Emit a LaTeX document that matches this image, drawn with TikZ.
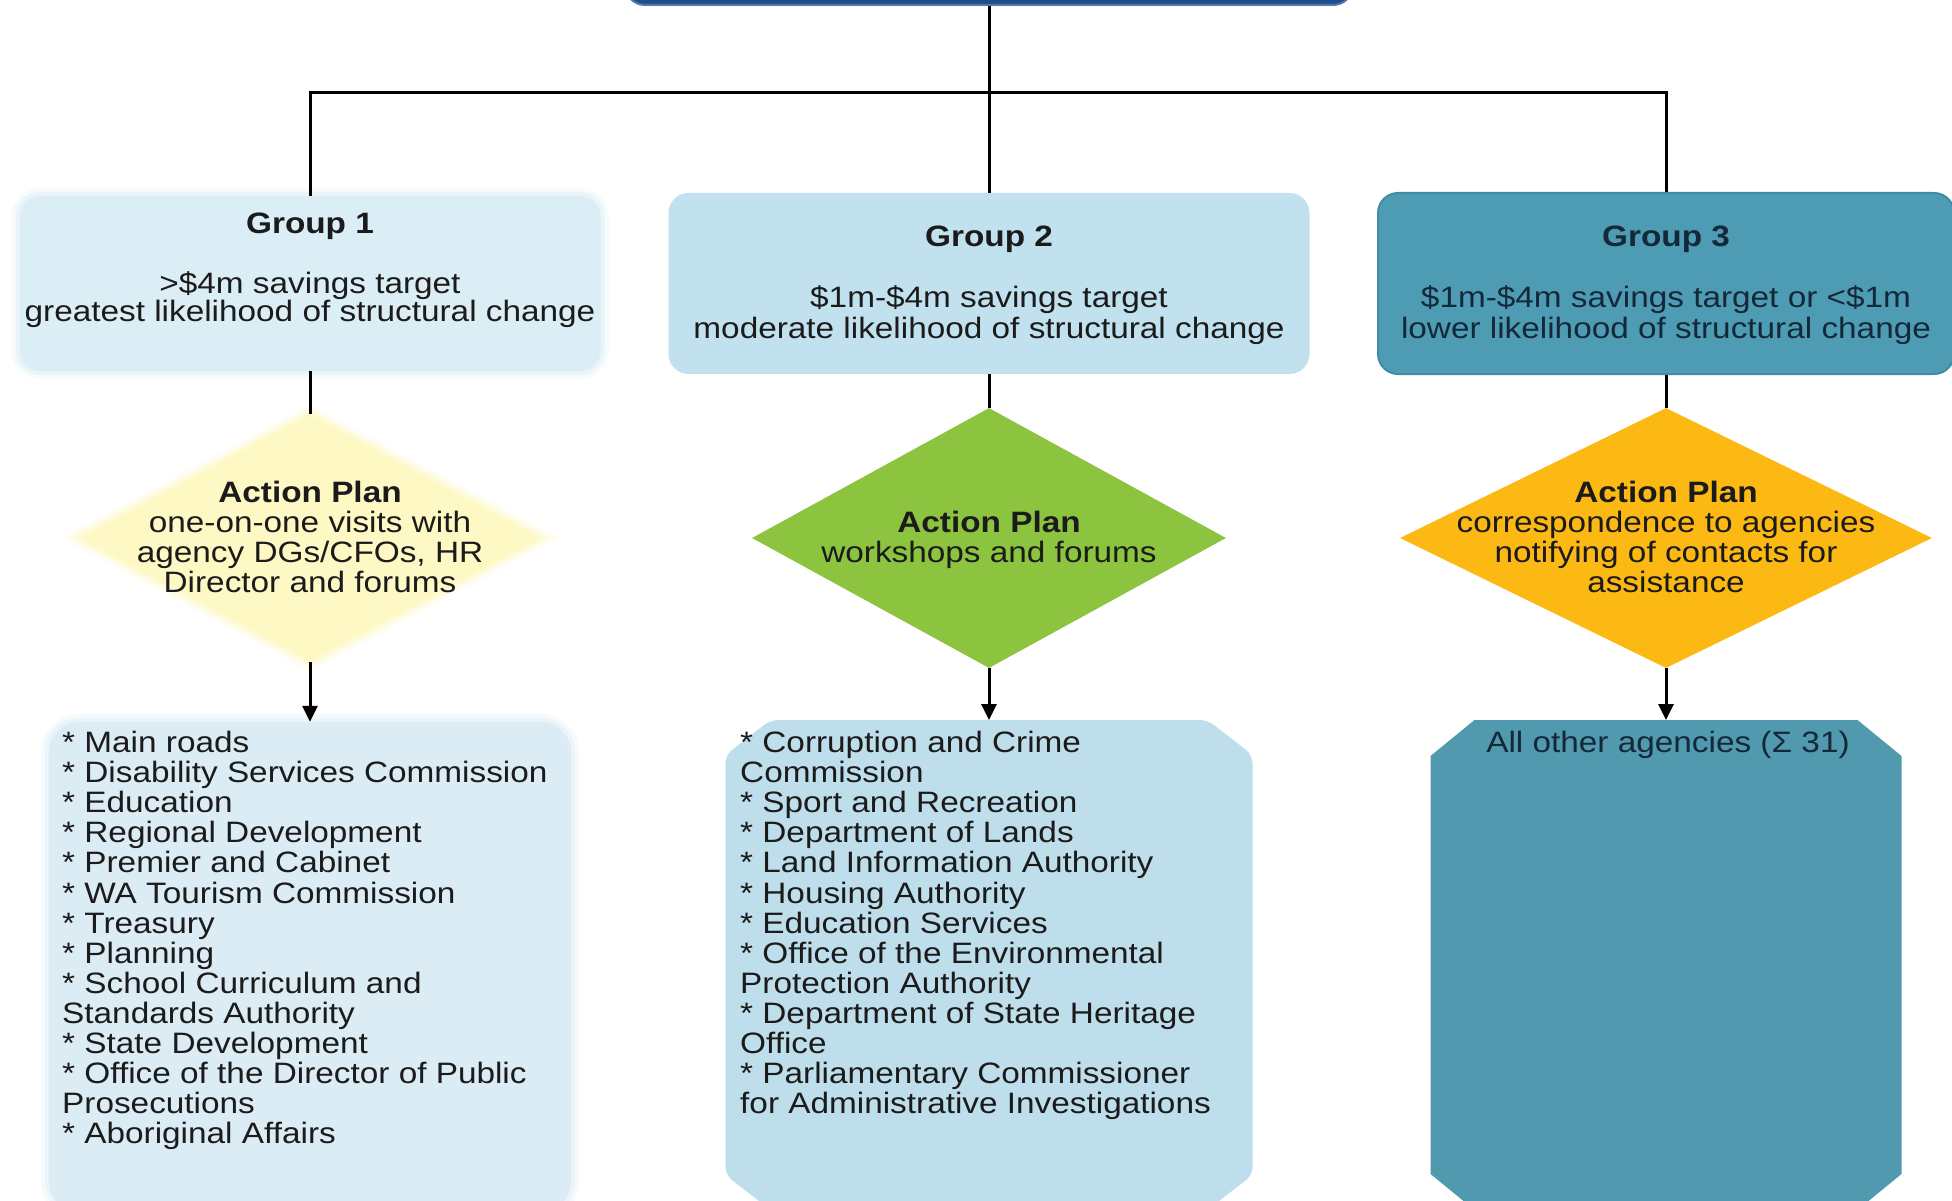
\documentclass[tikz,border=0pt]{standalone}
\usepackage{fontspec}
\setmainfont{Liberation Sans}[FakeStretch=1.13]
\usetikzlibrary{shapes.geometric,arrows.meta}

\definecolor{g1fill}{HTML}{DCEEF5}
\definecolor{g2fill}{HTML}{C0E1ED}
\definecolor{g3fill}{HTML}{4E9CB4}
\definecolor{g3edge}{HTML}{3F8CA5}
\definecolor{d1fill}{HTML}{FDF8C4}
\definecolor{d2fill}{HTML}{8CC43F}
\definecolor{d3fill}{HTML}{FCB813}
\definecolor{l1fill}{HTML}{DBECF4}
\definecolor{l2fill}{HTML}{BDDEEA}
\definecolor{l3fill}{HTML}{5199AE}
\definecolor{topfill}{HTML}{1F4D8C}
\definecolor{topedge}{HTML}{4F78AE}
\definecolor{ink}{HTML}{1B1B1B}
\definecolor{darkink}{HTML}{14283A}

% octagonal (snipped-corner) fill around a named node: #1 options, #2 node, #3 xcut, #4 ycut
\newcommand\octfill[4]{%
  \fill[#1] ([xshift=#3]#2.north west) -- ([xshift=-#3]#2.north east)
    -- ([yshift=-#4]#2.north east) -- ([yshift=#4]#2.south east)
    -- ([xshift=-#3]#2.south east) -- ([xshift=#3]#2.south west)
    -- ([yshift=#4]#2.south west) -- ([yshift=-#4]#2.north west) -- cycle;}

\begin{document}
\begin{tikzpicture}[x=1pt,y=-1pt,
  txt/.style={font=\fontsize{29.5}{30.1}\selectfont, text=ink, inner sep=0pt},
  soft/.style={preaction={draw=#1, line width=16pt, draw opacity=0.25},
               preaction={draw=#1, line width=8pt, draw opacity=0.45}},
  box/.style={rectangle, rounded corners=20pt, inner sep=0pt},
  frame/.style={rectangle, inner sep=0pt, outer sep=0pt},
  dia/.style={diamond, inner sep=0pt},
  link/.style={line width=3pt, draw=black},
  arr/.style={link, -{Triangle[width=15pt,length=16pt]}}
]
\useasboundingbox (0,0) rectangle (1952,1201);
\clip (0,0) rectangle (1952,1201);

% top box (cut off by the top edge)
\node[box, fill=topfill, draw=topedge, line width=2pt,
      minimum width=728pt, minimum height=60pt] (top) at (989,-25) {};

% group boxes
\node[box, fill=g1fill, soft=g1fill, minimum width=581pt, minimum height=175pt] (g1) at (310,283.5) {};
\node[box, fill=g2fill, minimum width=641pt, minimum height=181pt] (g2) at (989,283.5) {};
\node[box, fill=g3fill, draw=g3edge, line width=2pt, minimum width=576pt, minimum height=181pt] (g3) at (1666,283.5) {};

\node[txt, anchor=north, align=center] (g1t) at (310,213)
  {\textbf{Group 1}\\[30pt] >\$4m savings target\\[-2pt] greatest likelihood of structural change};
\node[txt, anchor=north, align=center] (g2t) at (989,226)
  {\textbf{Group 2}\\[31pt] \$1m-\$4m savings target\\[1pt] moderate likelihood of structural change};
\node[txt, anchor=north, align=center, text=darkink] (g3t) at (1666,226)
  {\textbf{Group 3}\\[31pt] \$1m-\$4m savings target or <\$1m\\[1pt] lower likelihood of structural change};

% diamonds
\node[dia, fill=d1fill, soft=d1fill, minimum width=463pt, minimum height=248pt] (d1) at (310,538) {};
\node[dia, fill=d2fill, minimum width=474pt, minimum height=260pt] (d2) at (989,538) {};
\node[dia, fill=d3fill, minimum width=532pt, minimum height=260pt] (d3) at (1666,538) {};

\node[txt, anchor=north, align=center] (d1t) at (310,481)
  {\textbf{Action Plan}\\one-on-one visits with\\agency DGs/CFOs, HR\\Director and forums};
\node[txt, anchor=north, align=center] (d2t) at (989,511)
  {\textbf{Action Plan}\\workshops and forums};
\node[txt, anchor=north, align=center] (d3t) at (1666,481)
  {\textbf{Action Plan}\\correspondence to agencies\\notifying of contacts for\\assistance};

% list boxes
\node[box, rounded corners=30pt, fill=l1fill, soft=l1fill, minimum width=522pt, minimum height=490pt] (l1) at (310,967) {};
\node[frame, minimum width=527pt, minimum height=490pt] (l2) at (989,965) {};
\octfill{l2fill, rounded corners=8pt}{l2}{45pt}{35pt}
\node[frame, minimum width=471pt, minimum height=490pt] (l3) at (1666,965) {};
\octfill{l3fill}{l3}{44pt}{36pt}

\node[txt, anchor=north west, align=left] (l1t) at (62,731)
  {* Main roads\\* Disability Services Commission\\* Education\\* Regional Development\\* Premier and Cabinet\\* WA Tourism Commission\\* Treasury\\* Planning\\* School Curriculum and\\Standards Authority\\* State Development\\* Office of the Director of Public\\Prosecutions\\* Aboriginal Affairs};
\node[txt, anchor=north west, align=left] (l2t) at (740,731)
  {* Corruption and Crime\\Commission\\* Sport and Recreation\\* Department of Lands\\* Land Information Authority\\* Housing Authority\\* Education Services\\* Office of the Environmental\\Protection Authority\\* Department of State Heritage\\Office\\* Parliamentary Commissioner\\for Administrative Investigations};
\node[txt, anchor=north, text=darkink] (l3t) at (1668,731) {All other agencies (Σ 31)};

% connectors
\coordinate (bus) at (989,93);
\draw[link] (top.south) -- (g2.north);
\draw[link] (g1.north) |- (bus) -| (g3.north);
\draw[link] (g1.south) -- (d1.north);
\draw[link] (g2.south) -- (d2.north);
\draw[link] (g3.south) -- (d3.north);
\draw[arr] (d1.south) -- (l1.north);
\draw[arr] (d2.south) -- (l2.north);
\draw[arr] (d3.south) -- (l3.north);
\end{tikzpicture}
\end{document}
